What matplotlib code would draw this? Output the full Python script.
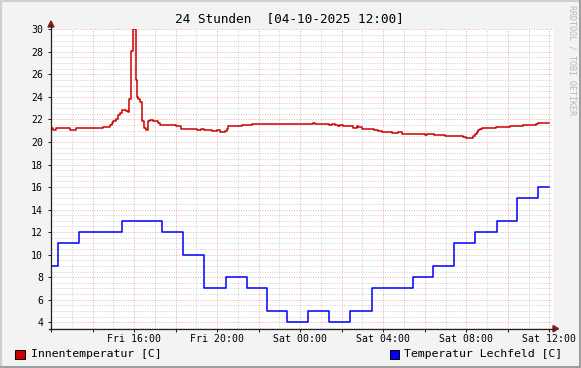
import matplotlib
matplotlib.use("Agg")
import matplotlib.pyplot as plt
from matplotlib.patches import Rectangle, Polygon
from matplotlib.lines import Line2D

W, H = 581, 368
MONO = "DejaVu Sans Mono"

# --- Daten: Stunden seit Fri 12:00, Wert gilt ab diesem Zeitpunkt (Stufen) ---
innen_h = [0.00, 0.10, 0.22, 0.90, 1.20, 1.78, 1.94, 2.41, 2.50, 2.83,
           2.92, 2.99, 3.13, 3.23, 3.32, 3.42, 3.61, 3.71, 3.77, 3.87,
           3.96, 4.08, 4.13, 4.21, 4.29, 4.38, 4.49, 4.58, 4.66, 4.77,
           4.93, 5.14, 5.25, 5.57, 5.89, 6.01, 6.26, 7.02, 7.23, 7.38,
           7.50, 7.74, 7.98, 8.14, 8.38, 8.46, 8.54, 9.19, 9.67, 11.32,
           11.38, 11.96, 12.24, 12.61, 12.72, 13.04, 13.41, 13.52, 13.68, 13.81,
           13.92, 14.08, 14.56, 14.72, 14.80, 15.00, 15.57, 15.76, 15.93, 16.44,
           16.73, 16.89, 17.69, 17.93, 18.01, 18.10, 18.42, 18.98, 19.86, 19.99,
           20.31, 20.42, 20.51, 20.58, 20.66, 20.75, 21.44, 22.11, 22.72, 23.36,
           23.43]
innen_c = [21.2, 21.1, 21.2, 21.1, 21.2, 21.28, 21.2, 21.28, 21.37, 21.54,
           21.72, 21.86, 22.07, 22.37, 22.57, 22.81, 22.72, 22.64, 23.8, 28.1,
           30.0, 25.5, 24.0, 23.8, 23.55, 21.9, 21.2, 21.1, 21.86, 21.99,
           21.86, 21.69, 21.54, 21.48, 21.54, 21.39, 21.19, 21.1, 21.19, 21.04,
           21.1, 20.98, 21.04, 20.89, 20.98, 21.19, 21.39, 21.48, 21.57, 21.63,
           21.57, 21.63, 21.57, 21.69, 21.63, 21.57, 21.48, 21.57, 21.48, 21.39,
           21.48, 21.39, 21.28, 21.39, 21.33, 21.19, 21.1, 20.98, 20.89, 20.8,
           20.89, 20.75, 20.68, 20.75, 20.62, 20.68, 20.6, 20.51, 20.42, 20.39,
           20.51, 20.68, 20.86, 21.04, 21.16, 21.22, 21.33, 21.45, 21.54, 21.63,
           21.72]

lech_h = [0.00, 0.35, 1.37, 3.41, 5.35, 6.37, 7.37, 8.41, 9.43, 10.42, 11.38,
          12.39, 13.40, 14.42, 15.45, 17.42, 18.41, 19.43, 20.44, 21.47, 22.45, 23.46]
lech_c = [9, 11, 12, 13, 12, 10, 7, 8, 7, 5, 4,
          5, 4, 5, 7, 8, 9, 11, 12, 13, 15, 16]
t_end = 23.99

x_label_pos = [4, 8, 12, 16, 20, 24]
x_labels = ["Fri 16:00", "Fri 20:00", "Sat 00:00", "Sat 04:00", "Sat 08:00", "Sat 12:00"]
y_labels = list(range(4, 31, 2))

title = "24 Stunden  [04-10-2025 12:00]"
series_names = ["Innentemperatur [C]", "Temperatur Lechfeld [C]"]
series_cols = ["#CC0000", "#0000FF"]


def fx(px):
    return px / W


def fy(py):
    return 1 - py / H


fig = plt.figure(figsize=(W / 100, H / 100), dpi=100, facecolor="#F3F3F3")

# Rahmen (3D-Schatten wie bei rrdtool)
for (x0, y0, x1, y1, c) in [(0, 1, W, 1, "#CFCFCF"), (1, 0, 1, H, "#CFCFCF"),
                            (0, H - 1, W, H - 1, "#9E9E9E"), (W - 1, 0, W - 1, H, "#9E9E9E")]:
    fig.add_artist(Line2D([fx(x0), fx(x1)], [fy(y0), fy(y1)], color=c, lw=1.5))

L, R, T, B = 51, 552.5, 28.5, 328.7
ax = fig.add_axes([fx(L), fy(B), fx(R - L), (B - T) / H])
ax.set_facecolor("white")
ax.set_xlim(0, 24.15)
ax.set_ylim(3.43, 30.07)
for s in ax.spines.values():
    s.set_visible(False)

dot = (0, (1, 1.4))
# Gitter: fein grau, grob rot
for h in range(0, 25):
    if h % 2:
        ax.axvline(h, color="#9A9A9A", alpha=0.45, lw=0.72, ls=dot, zorder=0)
    else:
        ax.axvline(h, color="#E05050", alpha=0.45, lw=0.72, ls=dot, zorder=0)
for k in range(7, 61):
    v = k / 2
    if k % 4 == 0:
        ax.axhline(v, color="#E05050", alpha=0.45, lw=0.72, ls=dot, zorder=0)
    else:
        ax.axhline(v, color="#9A9A9A", alpha=0.45, lw=0.72, ls=dot, zorder=0)

ax.step(innen_h + [t_end], innen_c + [innen_c[-1]], where="post",
        color=series_cols[0], lw=1.1, zorder=3)
ax.step(lech_h + [t_end], lech_c + [lech_c[-1]], where="post",
        color=series_cols[1], lw=1.1, zorder=3)

xt = list(range(0, 25, 2))
ax.set_xticks(xt)
ax.set_xticklabels([x_labels[x_label_pos.index(t)] if t in x_label_pos else "" for t in xt])
ax.set_yticks(y_labels)
ax.set_yticklabels([str(v) for v in y_labels])
ax.tick_params(axis="both", length=2.2, width=0.72, color="#1F1F1F", direction="out",
               labelsize=7.1)
ax.tick_params(axis="y", pad=3.4)
ax.tick_params(axis="x", pad=1.5)
for lab in ax.get_xticklabels() + ax.get_yticklabels():
    lab.set_family(MONO)

# Achsen mit Pfeilen
fig.add_artist(Line2D([fx(L), fx(L)], [fy(B + 1), fy(25)], color="#1F1F1F", lw=0.9))
fig.add_artist(Line2D([fx(L - 2), fx(554)], [fy(B), fy(B)], color="#1F1F1F", lw=0.9))
fig.add_artist(Polygon([(fx(L - 3), fy(27)), (fx(L + 3), fy(27)), (fx(L), fy(21))],
                       closed=True, color="#801F1F"))
fig.add_artist(Polygon([(fx(553), fy(B - 3.2)), (fx(553), fy(B + 3.2)), (fx(558.5), fy(B))],
                       closed=True, color="#801F1F"))

fig.text(fx(289.5), fy(19), title, ha="center", va="center", fontsize=9.2, family=MONO)
fig.text(fx(572), fy(60), "RRDTOOL / TOBI OETIKER", rotation=270, ha="center", va="center",
         fontsize=6, family=MONO, color="#B8B8B8")

# Legende
for (bx, tx, name, col, ha) in [(15, 30.7, series_names[0], series_cols[0], "left"),
                                (389.5, 404, series_names[1], series_cols[1], "left")]:
    fig.add_artist(Rectangle((fx(bx), fy(358.5)), 9.5 / W, 8.5 / H,
                             facecolor=col, edgecolor="black", lw=0.7))
    fig.text(fx(tx), fy(354.3), name, ha=ha, va="center", fontsize=8.25, family=MONO)

fig.savefig("out.png", dpi=100, facecolor=fig.get_facecolor())
